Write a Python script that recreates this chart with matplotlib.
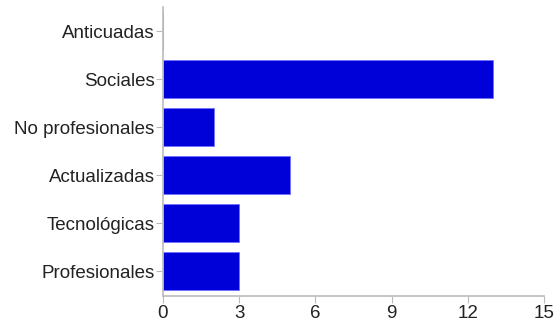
import matplotlib
matplotlib.use("Agg")
import matplotlib.pyplot as plt

# data (bottom to top)
categories = ["Profesionales", "Tecnológicas", "Actualizadas", "No profesionales", "Sociales", "Anticuadas"]
counts = [3, 3, 5, 2, 13, 0]
x_ticks = [0, 3, 6, 9, 12, 15]

plt.rcParams['font.family'] = ['Liberation Sans', 'DejaVu Sans']

fig = plt.figure(figsize=(5.59, 3.25), dpi=100)
ax = fig.add_axes([163 / 559, 29.5 / 325, 381 / 559, 288.5 / 325])

ax.barh(range(len(categories)), counts, height=0.79, color='#0000d8',
        edgecolor='#7070ff', linewidth=0.6)

ax.set_xlim(0, 15)
ax.set_ylim(-0.5, len(categories) - 0.5)
ax.set_xticks(x_ticks)
ax.set_yticks(range(len(categories)))
ax.set_yticklabels(categories)

for side in ['top', 'right']:
    ax.spines[side].set_visible(False)
for side in ['left', 'bottom']:
    ax.spines[side].set_color('#bbbbbb')
    ax.spines[side].set_linewidth(1.2)

ax.tick_params(axis='both', colors='#bbbbbb', labelcolor='#222222', labelsize=13.5, length=5)
ax.tick_params(axis='x', pad=2)
ax.tick_params(axis='y', pad=1)

fig.savefig("out.png", dpi=100)
